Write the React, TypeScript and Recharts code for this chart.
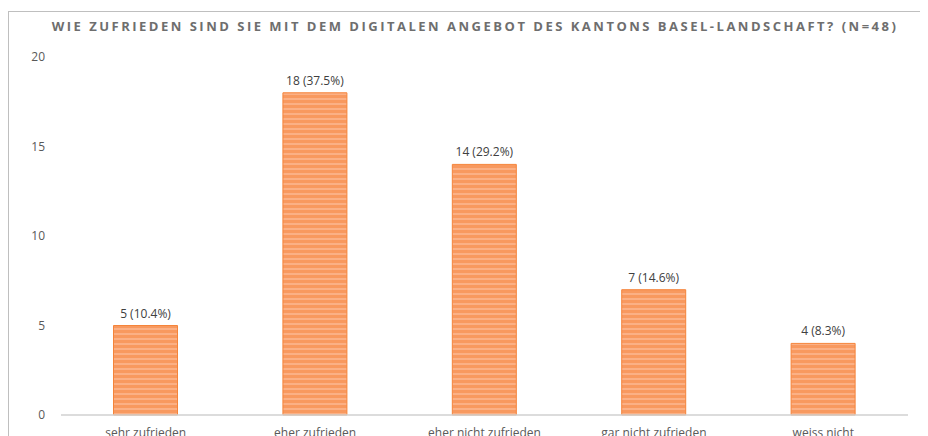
import { BarChart, Bar, XAxis, YAxis, LabelList } from 'recharts';

const categories = ['sehr zufrieden', 'eher zufrieden', 'eher nicht zufrieden', 'gar nicht zufrieden', 'weiss nicht'];
const counts = [5, 18, 14, 7, 4];
const percents = ['10.4%', '37.5%', '29.2%', '14.6%', '8.3%'];
const yTicks = [0, 5, 10, 15, 20];

const data = categories.map((c, i) => ({ c, v: counts[i], label: `${counts[i]} (${percents[i]})` }));

const font = '"Open Sans", "Liberation Sans", sans-serif';

// plain text label so recharts doesn't wrap it to the bar width
const BarLabel = (props: any) => {
  const { x, y, width, value } = props;
  return (
    <text x={x + width / 2} y={y - 8} textAnchor="middle" fill="#404040" fontSize={12} fontFamily={font}>
      {value}
    </text>
  );
};

export default function App() {
  return (
    <div style={{ position: 'relative', width: 920, height: 428, overflow: 'hidden', fontFamily: font }}>
      <div
        style={{
          position: 'absolute',
          left: 0,
          top: 3,
          width: 1000,
          height: 1000,
          border: '1px solid #BFBFBF',
        }}
      />
      <div
        style={{
          position: 'absolute',
          left: 0,
          top: 9,
          width: 934,
          textAlign: 'center',
          fontSize: 13,
          fontWeight: 700,
          letterSpacing: 2.5,
          color: '#6E6E6E',
          whiteSpace: 'nowrap',
        }}
      >
        WIE ZUFRIEDEN SIND SIE MIT DEM DIGITALEN ANGEBOT DES KANTONS BASEL-LANDSCHAFT? (N=48)
      </div>
      <div style={{ position: 'absolute', left: 0, top: 0 }}>
        <BarChart width={920} height={460} data={data} margin={{ top: 49, right: 20, bottom: 23, left: 0 }} barCategoryGap="31%">
          <defs>
            <pattern id="stripes" patternUnits="userSpaceOnUse" width={6} height={5}>
              <rect x={0} y={0} width={6} height={5} fill="#F8995F" />
              <rect x={0} y={0} width={6} height={2} fill="#FBB085" />
            </pattern>
          </defs>
          <XAxis
            dataKey="c"
            height={30}
            tickLine={false}
            tickSize={0}
            tickMargin={13}
            axisLine={{ stroke: '#D0D0D0', strokeWidth: 1.5 }}
            tick={{ fill: '#595959', fontSize: 12, fontFamily: font }}
            interval={0}
          />
          <YAxis
            width={53}
            domain={[0, 20]}
            ticks={yTicks}
            axisLine={false}
            tickLine={false}
            tickSize={0}
            tickMargin={16}
            tick={{ fill: '#595959', fontSize: 12, fontFamily: font }}
          />
          <Bar dataKey="v" fill="url(#stripes)" stroke="#F5843A" strokeWidth={1} isAnimationActive={false}>
            <LabelList dataKey="label" content={BarLabel} />
          </Bar>
        </BarChart>
      </div>
    </div>
  );
}
